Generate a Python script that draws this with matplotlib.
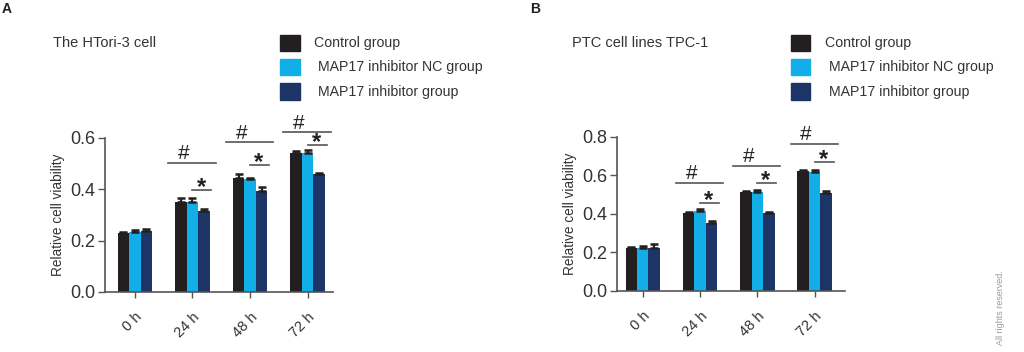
import numpy as np
import matplotlib.pyplot as plt
from matplotlib.patches import Rectangle

plt.rcParams['font.family'] = ['Liberation Sans', 'DejaVu Sans']

# Data
times = ['0 h', '24 h', '48 h', '72 h']
groups = ['Control group', 'MAP17 inhibitor NC group', 'MAP17 inhibitor group']
colors = ['#231f20', '#12aee8', '#1c3466']

a_ctrl = [0.230, 0.350, 0.445, 0.540]
a_nc = [0.232, 0.350, 0.440, 0.540]
a_inh = [0.236, 0.315, 0.395, 0.460]
a_ctrl_err = [0.004, 0.018, 0.013, 0.010]
a_nc_err = [0.008, 0.018, 0.006, 0.012]
a_inh_err = [0.010, 0.010, 0.013, 0.005]

b_ctrl = [0.222, 0.405, 0.515, 0.625]
b_nc = [0.225, 0.415, 0.515, 0.620]
b_inh = [0.225, 0.355, 0.405, 0.510]
b_ctrl_err = [0.005, 0.004, 0.004, 0.005]
b_nc_err = [0.010, 0.010, 0.010, 0.010]
b_inh_err = [0.020, 0.007, 0.005, 0.010]

# significance lines: (#line y, *line y) per time point after 0 h
a_hash_y = [0.503, 0.584, 0.623]
a_star_y = [0.397, 0.495, 0.573]
b_hash_y = [0.561, 0.650, 0.764]
b_star_y = [0.457, 0.560, 0.670]

fig = plt.figure(figsize=(10.24, 3.52), dpi=100)

w = 0.2
x = np.arange(len(times))


def panel(rect, xlim, ymax, yticks, vals, errs, hash_y, star_y, title, letter,
          letter_x, title_x, leg_x):
    ax = fig.add_axes(rect)
    for k, (v, e) in enumerate(zip(vals, errs)):
        ax.bar(x + (k - 1) * w, v, w, color=colors[k], zorder=2)
        ax.errorbar(x + (k - 1) * w, v, yerr=[np.zeros(len(v)), e], fmt='none',
                    ecolor='#231f20', elinewidth=1.6, capsize=3, capthick=1.8,
                    zorder=3)
    ax.set_xlim(*xlim)
    ax.set_ylim(0, ymax)
    ax.set_yticks(yticks)
    ax.set_yticklabels([f'{t:.1f}' for t in yticks], fontsize=13, color='#333333')
    ax.set_xticks(x)
    ax.set_xticklabels(times, rotation=45, ha='right', rotation_mode='anchor',
                       fontsize=10.5, color='#333333')
    ax.tick_params(axis='x', length=4, width=1, colors='#555555', labelcolor='#333333',
                   pad=9)
    ax.tick_params(axis='y', length=5, width=1, colors='#555555', labelcolor='#333333',
                   pad=2)
    for s in ['top', 'right']:
        ax.spines[s].set_visible(False)
    for s in ['left', 'bottom']:
        ax.spines[s].set_color('#555555')
        ax.spines[s].set_linewidth(1.2)
    ax.set_ylabel('Relative cell viability', fontsize=9.8, color='#333333', labelpad=4)

    # significance marks
    for i, (hy, sy) in enumerate(zip(hash_y, star_y)):
        c = x[i + 1]
        ax.plot([c - 0.42, c + 0.4], [hy, hy], color='#555555', lw=1.2, clip_on=False)
        ax.annotate('#', (c - 0.15, hy), xytext=(0, 6.5), textcoords='offset points',
                    ha='center', va='center', fontsize=15, color='#231f20',
                    annotation_clip=False)
        ax.plot([c + 0.0, c + 0.33], [sy, sy], color='#555555', lw=1.2, clip_on=False)
        ax.annotate('*', (c + 0.15, sy), xytext=(0, -3), textcoords='offset points',
                    ha='center', va='baseline', fontsize=17, fontweight='bold',
                    color='#231f20', annotation_clip=False)

    fig.text(letter_x, 0.975, letter, fontsize=10, fontweight='bold', va='center',
             color='#231f20')
    fig.text(title_x, 0.878, title, fontsize=10.5, va='center', color='#333333')
    for k, g in enumerate(groups):
        yc = 0.878 - k * 0.069
        fig.patches.append(Rectangle((leg_x, yc - 0.023), 0.0195, 0.046,
                                     transform=fig.transFigure, color=colors[k]))
        fig.text(leg_x + 0.034 + (0.004 if k else 0), yc, g, fontsize=10.2,
                 va='center', color='#333333')
    return ax


panel([0.1025, 0.1705, 0.2227, 0.4375], (-0.52, 3.44), 0.6, [0.0, 0.2, 0.4, 0.6],
      [a_ctrl, a_nc, a_inh], [a_ctrl_err, a_nc_err, a_inh_err], a_hash_y, a_star_y,
      'The HTori-3 cell', 'A', 0.002, 0.052, 0.273)
panel([0.6025, 0.1733, 0.2227, 0.4375], (-0.45, 3.53), 0.8, [0.0, 0.2, 0.4, 0.6, 0.8],
      [b_ctrl, b_nc, b_inh], [b_ctrl_err, b_nc_err, b_inh_err], b_hash_y, b_star_y,
      'PTC cell lines TPC-1', 'B', 0.518, 0.559, 0.772)

fig.text(0.977, 0.02, 'All rights reserved.', rotation=90, fontsize=6.5,
         color='#999999', ha='center', va='bottom')

fig.savefig('out.png', dpi=100)
